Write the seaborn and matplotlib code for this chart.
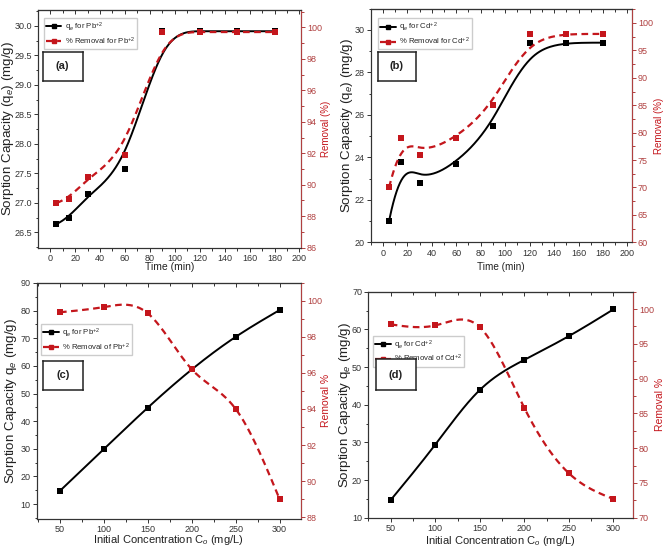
import numpy as np
import matplotlib
matplotlib.use('Agg')
import matplotlib.pyplot as plt
from matplotlib.lines import Line2D
from matplotlib.ticker import MultipleLocator
import seaborn as sns

# ---- datos ----
time_min = [5, 15, 30, 60, 90, 120, 150, 180]
qe_pb_time = [26.64, 26.74, 27.15, 27.57, 29.91, 29.91, 29.91, 29.91]
rem_pb_time = [88.84, 89.1, 90.5, 91.9, 99.7, 99.7, 99.7, 99.7]
qe_cd_time = [21.0, 23.8, 22.8, 23.7, 25.5, 29.37, 29.4, 29.4]
rem_cd_time = [70.0, 79.0, 76.0, 79.0, 85.0, 98.0, 98.0, 98.0]

conc = [50, 100, 150, 200, 250, 300]
qe_pb_conc = [14.8, 29.9, 44.9, 58.7, 70.5, 80.2]
rem_pb_conc = [99.36, 99.65, 99.3, 96.2, 94.0, 89.0]
qe_cd_conc = [14.7, 29.4, 43.9, 51.9, 58.2, 65.3]
rem_cd_conc = [97.8, 97.65, 97.4, 85.8, 76.4, 72.7]

RED = '#c4161c'
AXRED = '#b04040'

sns.set_style('ticks')
plt.rcParams['font.family'] = ['Liberation Sans', 'DejaVu Sans']
plt.rcParams['mathtext.fontset'] = 'custom'
plt.rcParams['mathtext.rm'] = 'Liberation Sans'
plt.rcParams['mathtext.it'] = 'Liberation Sans:italic'


def bspline(x, y, n=300):
    # B-spline abierto (curva de aproximacion tipo Origin)
    P = np.column_stack([x, y]).astype(float)
    k, m = 3, len(P)
    knots = np.concatenate([[0] * k, np.arange(m - k + 1), [m - k] * k]).astype(float)
    t = np.linspace(0, m - k, n)
    t[-1] -= 1e-9
    N = np.zeros((n, len(knots) - 1))
    for i in range(len(knots) - 1):
        N[:, i] = (knots[i] <= t) & (t < knots[i + 1])
    for d in range(1, k + 1):
        Nn = np.zeros((n, len(knots) - 1 - d))
        for i in range(len(knots) - 1 - d):
            a = knots[i + d] - knots[i]
            b = knots[i + d + 1] - knots[i + 1]
            if a > 0:
                Nn[:, i] += (t - knots[i]) / a * N[:, i]
            if b > 0:
                Nn[:, i] += (knots[i + d + 1] - t) / b * N[:, i + 1]
        N = Nn
    c = N @ P
    return c[:, 0], c[:, 1]


def natural_spline(x, y, n=300):
    # spline cubico natural que pasa por los puntos
    x = np.asarray(x, float)
    y = np.asarray(y, float)
    m = len(x)
    h = np.diff(x)
    A = np.zeros((m, m))
    r = np.zeros(m)
    A[0, 0] = A[-1, -1] = 1
    for i in range(1, m - 1):
        A[i, i - 1] = h[i - 1]
        A[i, i] = 2 * (h[i - 1] + h[i])
        A[i, i + 1] = h[i]
        r[i] = 6 * ((y[i + 1] - y[i]) / h[i] - (y[i] - y[i - 1]) / h[i - 1])
    M = np.linalg.solve(A, r)
    xs = np.linspace(x[0], x[-1], n)
    j = np.clip(np.searchsorted(x, xs) - 1, 0, m - 2)
    dx1 = x[j + 1] - xs
    dx0 = xs - x[j]
    hj = h[j]
    ys = (M[j] * dx1 ** 3 + M[j + 1] * dx0 ** 3) / (6 * hj) \
        + (y[j] / hj - M[j] * hj / 6) * dx1 + (y[j + 1] / hj - M[j + 1] * hj / 6) * dx0
    return xs, ys


W, H = 669, 550
fig = plt.figure(figsize=(W / 100, H / 100), dpi=100)


def px_axes(x0, y0, x1, y1):
    return fig.add_axes([x0 / W, 1 - y1 / H, (x1 - x0) / W, (y1 - y0) / H])


def panel(box, x, q, r, curve, xlim, ylim, rlim, xmaj, ymaj, rmaj,
          ylabel, rlabel, xlabel, labs, tag, leg_xy, tag_box, lab_pos, fs):
    ax = px_axes(*box)
    xs, ys = curve(x, q)
    sns.lineplot(x=xs, y=ys, sort=False, estimator=None, color='black', lw=1.4, ax=ax)
    sns.scatterplot(x=x, y=q, marker='s', color='black', s=14, linewidth=0, ax=ax, zorder=3)
    ax.set_xlim(*xlim)
    ax.set_ylim(*ylim)
    ax2 = ax.twinx()
    xs, ys = curve(x, r)
    sns.lineplot(x=xs, y=ys, sort=False, estimator=None, color=RED, lw=1.6,
                 linestyle=(0, (3, 2)), ax=ax2)
    sns.scatterplot(x=x, y=r, marker='s', color=RED, s=14, linewidth=0, ax=ax2, zorder=3)
    ax2.set_ylim(*rlim)
    ax2.set_xlim(*xlim)

    for a in (ax, ax2):
        for s in a.spines.values():
            s.set_linewidth(0.8)
            s.set_color('#333333')
    ax2.spines['right'].set_color(AXRED)
    ax.xaxis.set_major_locator(MultipleLocator(xmaj))
    ax.xaxis.set_minor_locator(MultipleLocator(xmaj / 2))
    ax.yaxis.set_major_locator(MultipleLocator(ymaj))
    ax.yaxis.set_minor_locator(MultipleLocator(ymaj / 2))
    ax2.yaxis.set_major_locator(MultipleLocator(rmaj))
    ax2.yaxis.set_minor_locator(MultipleLocator(rmaj / 2))
    ax.tick_params(which='major', length=3, width=0.7, labelsize=6.5, colors='#333333', pad=1.5)
    ax.tick_params(which='minor', length=1.8, width=0.7, colors='#333333')
    ax2.tick_params(which='major', length=3, width=0.7, labelsize=6.5, colors=AXRED, pad=1.5)
    ax2.tick_params(which='minor', length=1.8, width=0.7, colors=AXRED)
    top = ax.secondary_xaxis('top')
    top.xaxis.set_major_locator(MultipleLocator(xmaj))
    top.xaxis.set_minor_locator(MultipleLocator(xmaj / 2))
    top.tick_params(which='both', direction='in', labeltop=False, width=0.7, colors='#333333')
    top.tick_params(which='major', length=3)
    top.tick_params(which='minor', length=2)
    if xlim[0] < 0:
        ax.set_xticks(ax.get_xticks()[ax.get_xticks() >= 0])
        ax.set_xlim(*xlim)

    fy, fr, fx = fs
    ax.set_xlabel(xlabel, fontsize=fx, color='#222222')
    ax.set_ylabel(ylabel, fontsize=fy, color='#222222')
    ax2.set_ylabel(rlabel, fontsize=fr, color=RED)
    lx, rx, bx = lab_pos
    ax.yaxis.set_label_coords(lx, 0.5)
    ax2.yaxis.set_label_coords(rx, 0.5)
    ax.xaxis.set_label_coords(0.5, bx)
    ax.xaxis.label.set_va('center')
    ax.yaxis.label.set_va('center')
    ax2.yaxis.label.set_va('center')

    handles = [Line2D([], [], color='black', lw=1.4, marker='s', ms=3.5),
               Line2D([], [], color=RED, lw=1.6, ls=(0, (3, 2)), marker='s', ms=3.5)]
    ax2.legend(handles, labs, loc='upper left', bbox_to_anchor=leg_xy, fontsize=5.6,
               frameon=True, fancybox=False, edgecolor='#cccccc', framealpha=1,
               handlelength=2.0, handletextpad=0.4, borderpad=0.3, labelspacing=0.2,
               borderaxespad=0)

    bx0, by0, bx1, by1 = tag_box
    tx = fig.add_axes([bx0 / W, 1 - by1 / H, (bx1 - bx0) / W, (by1 - by0) / H])
    tx.set_xticks([])
    tx.set_yticks([])
    for s in tx.spines.values():
        s.set_linewidth(1.1)
        s.set_color('#222222')
    tx.text(0.5, 0.5, tag, ha='center', va='center', fontsize=8,
            fontweight='bold', color='#222222', transform=tx.transAxes)


panel((38.3, 10, 300.7, 247.7), time_min, qe_pb_time, rem_pb_time, bspline,
      (-9.5, 201), (26.24, 30.27), (86, 101.1), 20, 0.5, 2,
      'Sorption Capacity (q$_e$) (mg/g)', 'Removal (%)', 'Time (min)',
      ['q$_e$ for Pb$^{+2}$', '% Removal for Pb$^{+2}$'], '(a)',
      (0.02, 0.966), (42.7, 51.7, 82.7, 81), (-0.116, 1.095, -0.08), (9.6, 7, 7.5))

panel((370.7, 8.7, 631.7, 242.3), time_min, qe_cd_time, rem_cd_time, bspline,
      (-10, 203.5), (20, 31), (60, 102.6), 20, 2, 5,
      'Sorption Capacity (q$_e$) (mg/g)', 'Removal (%)', 'Time (min)',
      ['q$_e$ for Cd$^{+2}$', '% Removal for Cd$^{+2}$'], '(b)',
      (0.027, 0.959), (377.7, 51.7, 416, 81), (-0.09, 1.105, -0.104), (9.6, 7, 7.2))

panel((36.7, 282.7, 300.7, 519), conc, qe_pb_conc, rem_pb_conc, natural_spline,
      (23.5, 324), (4.6, 90.1), (87.9, 101), 50, 10, 2,
      'Sorption Capacity q$_e$ (mg/g)', 'Removal %', 'Initial Concentration C$_o$ (mg/L)',
      ['q$_e$ for Pb$^{+2}$', '% Removal of Pb$^{+2}$'], '(c)',
      (0.015, 0.825), (42.7, 361, 82.7, 390), (-0.097, 1.095, -0.089), (9.6, 7.5, 8))

panel((368.3, 291.7, 632.7, 517.7), conc, qe_cd_conc, rem_cd_conc, natural_spline,
      (24.8, 321.8), (10, 70), (70, 102.5), 50, 10, 5,
      'Sorption Capacity q$_e$ (mg/g)', 'Removal %', 'Initial Concentration C$_o$ (mg/L)',
      ['q$_e$ for Cd$^{+2}$', '% Removal of Cd$^{+2}$'], '(d)',
      (0.017, 0.804), (375.7, 359, 416, 390), (-0.09, 1.105, -0.105), (9.6, 7.5, 8))

fig.savefig('out.png', dpi=100)
